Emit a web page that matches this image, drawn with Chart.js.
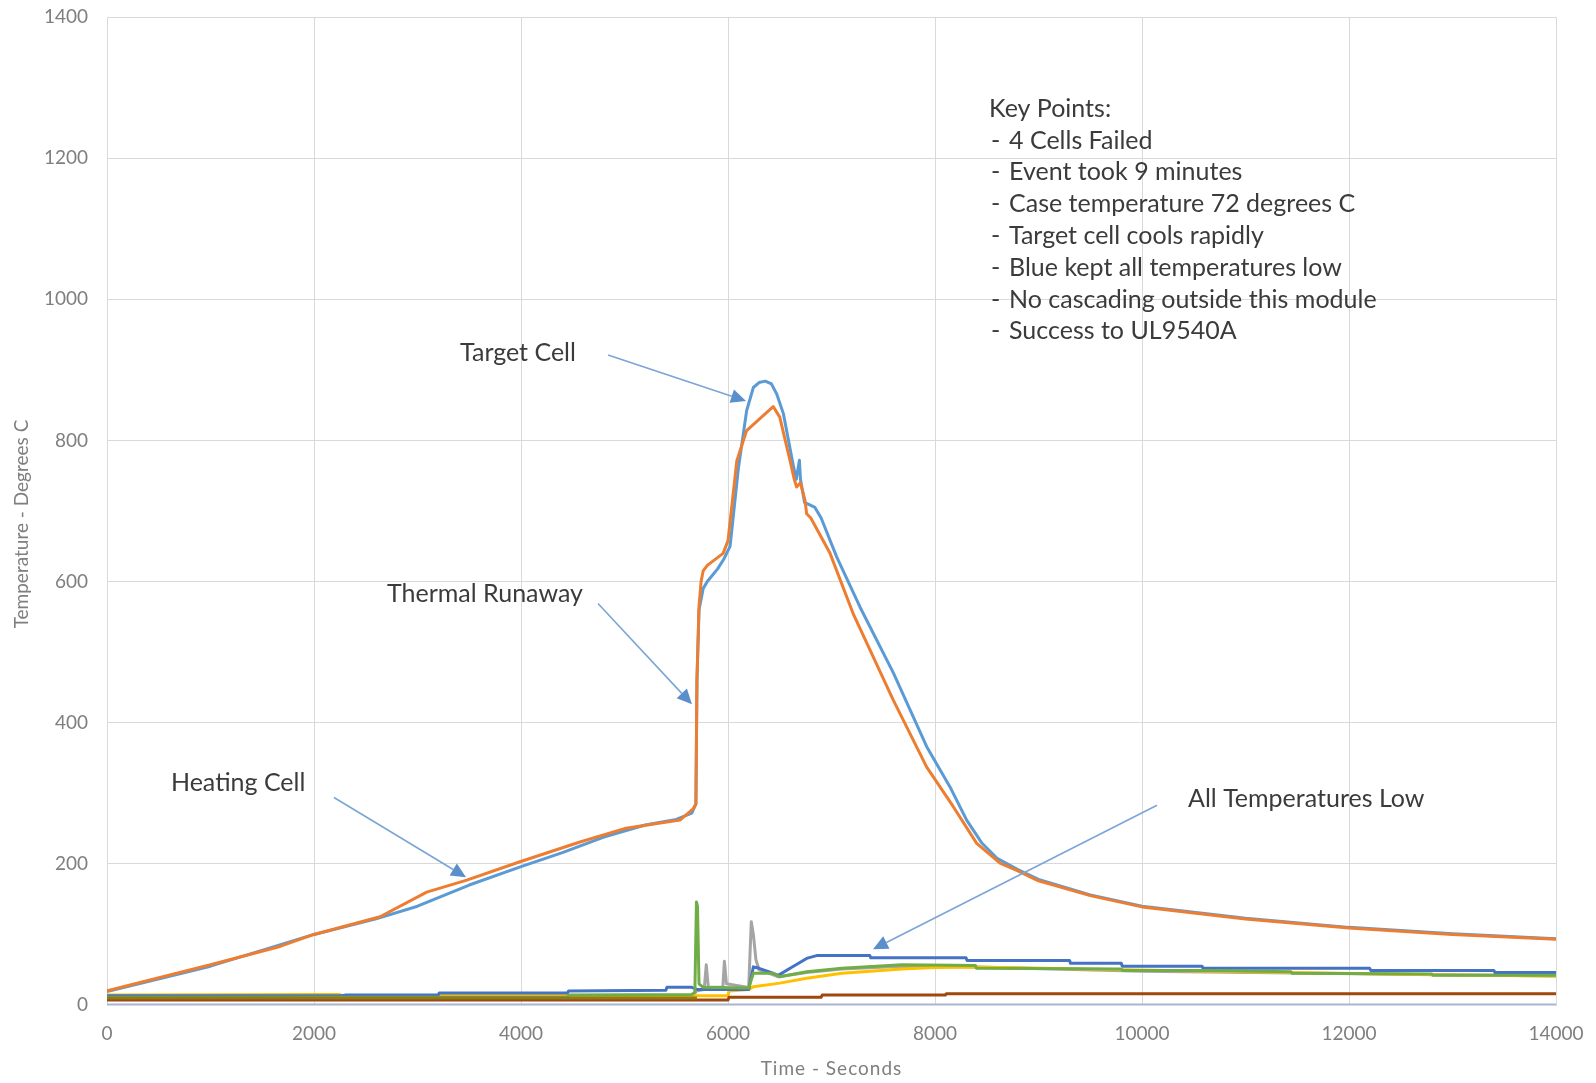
<!DOCTYPE html>
<html>
<head>
<meta charset="utf-8">
<title>Module Thermal Runaway Test</title>
<script src="https://cdn.jsdelivr.net/npm/chart.js@4.4.1/dist/chart.umd.min.js"></script>
<style>
  html, body { margin: 0; padding: 0; background: #fff; }
  #wrap { width: 1596px; height: 1083px; }
</style>
</head>
<body>
<div id="wrap"><canvas id="tempChart" width="1596" height="1083"></canvas></div>
<script>
// =====================
// DATA (seconds / degrees C)
// =====================
const xTicks = [0, 2000, 4000, 6000, 8000, 10000, 12000, 14000];
const yTicks = [0, 200, 400, 600, 800, 1000, 1200, 1400];

// target cell, upper curve (blue)
const blueTime = [0, 1000, 2000, 2600, 3000, 3500, 4000, 4400, 4800, 5200, 5500, 5650, 5690, 5700, 5720, 5760, 5800, 5900, 5960, 6020, 6100, 6180, 6245, 6300, 6360, 6420, 6470, 6535, 6630, 6660, 6690, 6700, 6740, 6770, 6840, 6900, 7050, 7275, 7600, 7920, 8145, 8306, 8450, 8600, 8800, 9000, 9500, 10000, 11000, 12000, 13000, 14000];
const blueTemp = [19, 55, 100, 122, 140, 170, 196, 216, 238, 255, 263, 272, 285, 460, 560, 590, 600, 618, 632, 650, 760, 842, 875, 882, 884, 880, 866, 838, 765, 745, 772, 745, 712, 710, 705, 690, 635, 564, 470, 366, 309, 262, 230, 208, 192, 178, 156, 140, 123, 110, 101, 94];

// heating cell (orange)
const orangeTime = [0, 1000, 1671, 2000, 2638, 3089, 3476, 3990, 4570, 5000, 5536, 5663, 5690, 5700, 5720, 5740, 5760, 5800, 5953, 6000, 6085, 6180, 6340, 6437, 6500, 6600, 6640, 6663, 6700, 6744, 6760, 6800, 6986, 7208, 7597, 7920, 8177, 8403, 8628, 8800, 9000, 9500, 10000, 11000, 12000, 13000, 14000];
const orangeTemp = [20, 57, 83, 100, 125, 160, 177, 203, 231, 250, 262, 278, 285, 460, 565, 600, 615, 623, 640, 658, 771, 814, 835, 848, 833, 771, 745, 734, 740, 715, 696, 690, 640, 555, 432, 337, 281, 229, 201, 190, 176, 155, 139, 122, 109, 100, 93];

const grayTime = [0, 5650, 5700, 5770, 5790, 5810, 5950, 5965, 5985, 6200, 6225, 6245, 6270, 6300, 6400, 6485, 6760, 7100, 7680, 8400, 10000, 14000];
const grayTemp = [12, 13, 20, 22, 57, 25, 25, 62, 30, 25, 118, 100, 64, 50, 45, 40, 46, 51, 55, 54, 48, 41];

const yellowTime = [0, 2000, 2250, 2260, 5650, 6000, 6010, 6200, 6245, 6500, 6760, 7100, 7680, 8000, 8400, 9800, 12800, 14000];
const yellowTemp = [14, 15, 15, 13, 13, 13, 20, 22, 26, 31, 38, 45, 51, 53, 54, 50, 43, 41];

const darkBlueTime = [0, 2250, 2300, 3200, 3210, 4450, 4460, 5400, 5410, 5650, 5700, 6200, 6245, 6300, 6400, 6485, 6600, 6760, 6856, 7370, 7380, 8300, 8310, 9300, 9310, 9800, 9810, 10580, 10590, 12200, 12210, 13400, 13410, 14000];
const darkBlueTemp = [13, 13, 14, 14, 17, 17, 20, 21, 25, 25, 22, 22, 54, 52, 47, 42, 52, 66, 70, 70, 67, 67, 63, 63, 59, 59, 55, 55, 52, 52, 49, 49, 46, 46];

const greenTime = [0, 4450, 4460, 5650, 5680, 5695, 5705, 5720, 5760, 6200, 6245, 6440, 6500, 6760, 7100, 7680, 8390, 8400, 9800, 9810, 10670, 11440, 11450, 12800, 12810, 14000];
const greenTemp = [11, 11, 14, 15, 18, 146, 140, 30, 25, 24, 45, 45, 40, 47, 52, 57, 56, 52, 51, 49, 49, 47, 45, 44, 42, 42];

const brownTime = [0, 6000, 6010, 6900, 6910, 8100, 8110, 14000];
const brownTemp = [7, 7, 11, 11, 14, 14, 16, 16];

const oliveTime = [0, 5700];
const oliveTemp = [10, 10];

const baseTime = [0, 14000];
const baseTemp = [0, 0];

// =====================
// ANNOTATIONS (anchored in data units)
// =====================
const notes = [
    { text: 'Target Cell', t: 3411, v: 924, from: [4841, 921], to: [6174, 856] },
    { text: 'Thermal Runaway', t: 2705, v: 582, from: [4744, 569], to: [5652, 426] },
    { text: 'Heating Cell', t: 618, v: 314, from: [2193, 294], to: [3469, 181] },
    { text: 'All Temperatures Low', t: 10445, v: 292, from: [10145, 283], to: [7401, 79] }
];
const keyTitle = 'Key Points:';
const keyLines = [
    '4 Cells Failed',
    'Event took 9 minutes',
    'Case temperature 72 degrees C',
    'Target cell cools rapidly',
    'Blue kept all temperatures low',
    'No cascading outside this module',
    'Success to UL9540A'
];
const keyAnchor = { t: 8522, v: 1270 };
const xTitle = 'Time - Seconds';
const yTitle = 'Temperature - Degrees C';

const fontFamily = 'Lato, "Open Sans", sans-serif';
const axisGray = '#7f7f7f';
const gridGray = '#d9d9d9';

function pts(times, temps) {
    return times.map((t, i) => ({ x: t, y: temps[i] }));
}

function line(times, temps, color) {
    return {
        data: pts(times, temps),
        borderColor: color,
        backgroundColor: color,
        borderWidth: 3,
        pointRadius: 0,
        tension: 0,
        borderJoinStyle: 'round',
        fill: false
    };
}

// =====================
// NOTES PLUGIN
// =====================
function drawArrow(ctx, x1, y1, x2, y2) {
    const ang = Math.atan2(y2 - y1, x2 - x1);
    const headLen = 15, headHalf = 7;
    const bx = x2 - headLen * Math.cos(ang), by = y2 - headLen * Math.sin(ang);
    ctx.strokeStyle = '#7ba5d6';
    ctx.lineWidth = 1.6;
    ctx.beginPath();
    ctx.moveTo(x1, y1);
    ctx.lineTo(bx, by);
    ctx.stroke();
    ctx.fillStyle = '#5a8fcc';
    ctx.beginPath();
    ctx.moveTo(x2, y2);
    ctx.lineTo(bx + headHalf * Math.sin(ang), by - headHalf * Math.cos(ang));
    ctx.lineTo(bx - headHalf * Math.sin(ang), by + headHalf * Math.cos(ang));
    ctx.closePath();
    ctx.fill();
}

const notesPlugin = {
    id: 'notes',
    afterDatasetsDraw(chart) {
        const { ctx, chartArea, scales: { x, y } } = chart;
        ctx.save();
        ctx.font = `25px ${fontFamily}`;
        ctx.textBaseline = 'middle';
        ctx.textAlign = 'left';
        notes.forEach(n => {
            ctx.fillStyle = '#3b3b3b';
            ctx.fillText(n.text, x.getPixelForValue(n.t), y.getPixelForValue(n.v));
            drawArrow(ctx,
                x.getPixelForValue(n.from[0]), y.getPixelForValue(n.from[1]),
                x.getPixelForValue(n.to[0]), y.getPixelForValue(n.to[1]));
        });

        const kx = x.getPixelForValue(keyAnchor.t);
        const ky = y.getPixelForValue(keyAnchor.v);
        ctx.fillStyle = '#3b3b3b';
        ctx.fillText(keyTitle, kx, ky);
        keyLines.forEach((s, i) => {
            const ly = ky + 31.8 * (i + 1);
            ctx.fillText('-', kx + 2, ly);
            ctx.fillText(s, kx + 20, ly);
        });

        // axis titles
        ctx.fillStyle = axisGray;
        ctx.font = `19px ${fontFamily}`;
        ctx.textAlign = 'center';
        ctx.letterSpacing = '1px';
        ctx.fillText(xTitle, (chartArea.left + chartArea.right) / 2, chart.height - 14);
        ctx.letterSpacing = '0px';
        ctx.translate(22, chartArea.top + (chartArea.bottom - chartArea.top) / 2 + 13);
        ctx.rotate(-Math.PI / 2);
        ctx.fillText(yTitle, 0, 0);
        ctx.restore();
    }
};

// =====================
// CHART
// =====================
const ctx = document.getElementById('tempChart');

new Chart(ctx, {
    type: 'line',
    data: {
        datasets: [
            line(baseTime, baseTemp, '#a4b6d9'),
            line(oliveTime, oliveTemp, '#8f7a1c'),
            line(brownTime, brownTemp, '#9e480e'),
            line(greenTime, greenTemp, '#70ad47'),
            line(darkBlueTime, darkBlueTemp, '#4472c4'),
            line(yellowTime, yellowTemp, '#ffc000'),
            line(grayTime, grayTemp, '#a5a5a5'),
            line(orangeTime, orangeTemp, '#ed7d31'),
            line(blueTime, blueTemp, '#5b9bd5')
        ]
    },
    options: {
        responsive: false,
        animation: false,
        layout: { padding: { top: 17, right: 40, left: 0, bottom: 0 } },
        plugins: { legend: { display: false }, tooltip: { enabled: false } },
        scales: {
            x: {
                type: 'linear', min: 0, max: 14000,
                afterBuildTicks: s => { s.ticks = xTicks.map(v => ({ value: v })); },
                afterFit: s => { s.height = 78; s.paddingLeft = 0; s.paddingRight = 0; },
                ticks: { color: axisGray, font: { family: fontFamily, size: 19 }, padding: 17, callback: v => String(v) },
                grid: { color: gridGray, drawTicks: false },
                border: { color: gridGray }
            },
            y: {
                type: 'linear', min: 0, max: 1400,
                afterBuildTicks: s => { s.ticks = yTicks.map(v => ({ value: v })); },
                afterFit: s => { s.width = 107; s.paddingTop = 0; s.paddingBottom = 0; },
                ticks: { color: axisGray, font: { family: fontFamily, size: 19 }, padding: 19, callback: v => String(v) },
                grid: { color: gridGray, drawTicks: false },
                border: { color: gridGray }
            }
        }
    },
    plugins: [notesPlugin]
});
</script>
</body>
</html>
